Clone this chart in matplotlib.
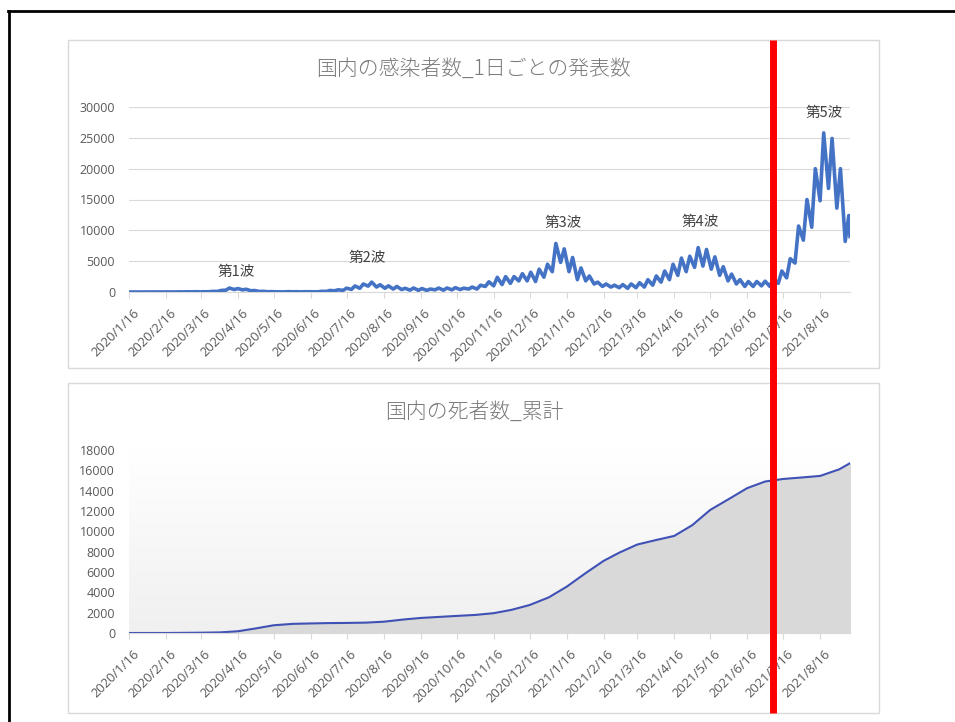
import numpy as np
import pandas as pd
import matplotlib
matplotlib.use('Agg')
import matplotlib.pyplot as plt
import matplotlib.dates as mdates
from matplotlib.colors import LinearSegmentedColormap
from matplotlib.patches import Rectangle
from matplotlib.lines import Line2D
from matplotlib.transforms import ScaledTranslation

plt.rcParams['font.family'] = ['Noto Sans CJK JP', 'DejaVu Sans']

# daily new cases: weekly high (placed on Thursdays) and weekly low (Mondays)
high_start = '2020-01-16'
weekly_high = [0, 1, 3, 4, 8, 15, 25, 35, 45, 40,
               100, 250, 640, 560, 440, 240, 110, 60, 30, 60,
               45, 45, 60, 110, 250, 355, 620, 980, 1300, 1600,
               1180, 1000, 900, 600, 650, 560, 480, 640, 650, 700,
               620, 800, 1100, 1650, 2380, 2500, 2500, 2970, 3200, 3700,
               4500, 7880, 7000, 5600, 3900, 2600, 1600, 1300, 1100, 1200,
               1300, 1500, 2000, 2600, 3400, 4500, 5500, 5800, 7200, 6900,
               5700, 4100, 2900, 2000, 1700, 1700, 1750, 2200, 3400, 5400,
               10700, 15000, 20000, 25800, 24900, 20000, 12400]
low_start = '2020-01-20'
weekly_low = [0, 1, 1, 2, 5, 10, 15, 25, 20, 40,
              85, 300, 400, 350, 200, 90, 40, 30, 20, 30,
              20, 45, 30, 85, 200, 260, 420, 600, 950, 800,
              600, 480, 400, 300, 270, 260, 350, 300, 350, 400,
              480, 480, 900, 1000, 1200, 1400, 1800, 1800, 1700, 2400,
              3300, 4800, 3300, 2000, 1800, 1300, 900, 800, 700, 600,
              700, 800, 1100, 1600, 2000, 2700, 3300, 4000, 4200, 3700,
              2700, 1800, 1300, 900, 900, 1000, 900, 1400, 2300, 4700,
              8400, 10500, 14800, 16800, 13600, 8200]
last_date = '2021-09-10'
last_value = 9000

# cumulative deaths
death_dates = ['2020-01-16', '2020-02-16', '2020-03-16', '2020-04-01', '2020-04-16',
               '2020-05-01', '2020-05-16', '2020-06-01', '2020-06-16', '2020-07-01',
               '2020-07-16', '2020-08-01', '2020-08-16', '2020-09-01', '2020-09-16',
               '2020-10-01', '2020-10-16', '2020-11-01', '2020-11-16', '2020-12-01',
               '2020-12-16', '2021-01-01', '2021-01-16', '2021-02-01', '2021-02-16',
               '2021-03-01', '2021-03-16', '2021-04-01', '2021-04-16', '2021-05-01',
               '2021-05-16', '2021-06-01', '2021-06-16', '2021-07-01', '2021-07-16',
               '2021-08-01', '2021-08-16', '2021-09-01', '2021-09-10']
death_total = [0, 1, 30, 60, 170, 450, 760, 900, 940, 975,
               990, 1020, 1110, 1320, 1480, 1580, 1680, 1780, 1950, 2280,
               2750, 3500, 4550, 5900, 7100, 7900, 8700, 9150, 9550, 10600,
               12100, 13200, 14250, 14900, 15150, 15300, 15450, 16100, 16700]

tick_labels = ['2020/1/16', '2020/2/16', '2020/3/16', '2020/4/16', '2020/5/16',
               '2020/6/16', '2020/7/16', '2020/8/16', '2020/9/16', '2020/10/16',
               '2020/11/16', '2020/12/16', '2021/1/16', '2021/2/16', '2021/3/16',
               '2021/4/16', '2021/5/16', '2021/6/16', '2021/7/16', '2021/8/16']

wave_labels = ['第1波', '第2波', '第3波', '第4波', '第5波']
wave_dates = ['2020-04-15', '2020-08-02', '2021-01-13', '2021-05-08', '2021-08-19']
wave_y = [3300, 5500, 11250, 11400, 28950]

marker_date = '2021-07-08'

# build daily-case series
hi = pd.Series(weekly_high, index=pd.date_range(high_start, periods=len(weekly_high), freq='7D'))
lo = pd.Series(weekly_low, index=pd.date_range(low_start, periods=len(weekly_low), freq='7D'))
cases = pd.concat([hi, lo, pd.Series([last_value], index=pd.to_datetime([last_date]))]).sort_index()
deaths = pd.Series(death_total, index=pd.to_datetime(death_dates))
ticks = pd.to_datetime(tick_labels, format='%Y/%m/%d')
x_range = (pd.Timestamp(high_start), pd.Timestamp(last_date))

W, H = 955, 722
fig = plt.figure(figsize=(W / 100, H / 100), dpi=100)


def box(x0, y0, x1, y1):
    return [x0 / W, 1 - y1 / H, (x1 - x0) / W, (y1 - y0) / H]


# chart frames
for y0, y1 in [(40, 368), (383, 713)]:
    fig.patches.append(Rectangle((68 / W, 1 - y1 / H), (879 - 68) / W, (y1 - y0) / H,
                                 transform=fig.transFigure, facecolor='white',
                                 edgecolor='#d9d9d9', lw=1, zorder=-5))

# outer black frame
fig.lines.append(Line2D([8 / W, 1], [1 - 11 / H, 1 - 11 / H], transform=fig.transFigure,
                        color='black', lw=2))
fig.lines.append(Line2D([9 / W, 9 / W], [0, 1 - 11 / H], transform=fig.transFigure,
                        color='black', lw=2))

ax1 = fig.add_axes(box(129, 107, 850, 292))
ax2 = fig.add_axes(box(129, 450, 850, 633))

label_shift = ScaledTranslation(8 / 100, -2 / 100, fig.dpi_scale_trans)
tick_font = 'Open Sans'


def style_xaxis(ax):
    ax.set_xlim(*x_range)
    ax.set_xticks(ticks)
    ax.set_xticklabels(tick_labels)
    ax.tick_params(axis='x', length=4, width=0.8, color='#d9d9d9', labelsize=9.4,
                   labelcolor='#595959', pad=8)
    ax.tick_params(axis='y', length=0, labelsize=9, labelcolor='#595959', pad=10)
    for lbl in ax.get_xticklabels():
        lbl.set_family(tick_font)
        lbl.set_rotation(45)
        lbl.set_ha('right')
        lbl.set_va('center')
        lbl.set_rotation_mode('anchor')
        lbl.set_transform(lbl.get_transform() + label_shift)
    for lbl in ax.get_yticklabels():
        lbl.set_family(tick_font)
    for s in ['top', 'right', 'left']:
        ax.spines[s].set_visible(False)
    ax.spines['bottom'].set_color('#d9d9d9')


# top chart: daily cases
ax1.set_facecolor('none')
ax1.plot(cases.index, cases.values, color='#4472c4', lw=2.6, solid_joinstyle='round', zorder=3)
ax1.set_ylim(0, 30000)
ax1.set_yticks(range(0, 30001, 5000))
ax1.grid(axis='y', color='#d9d9d9', lw=0.8)
ax1.set_axisbelow(True)
style_xaxis(ax1)
for lbl, d, y in zip(wave_labels, wave_dates, wave_y):
    ax1.text(pd.Timestamp(d), y, lbl, ha='center', va='center', fontsize=10.5, color='#404040')

# bottom chart: cumulative deaths
grad = LinearSegmentedColormap.from_list('bg', ['#f0f0f0', '#ffffff'])
ax2.imshow(np.linspace(0, 1, 100).reshape(-1, 1), cmap=grad, origin='lower', aspect='auto',
           extent=[0, 1, 0, 1], transform=ax2.transAxes, zorder=0)
ax2.fill_between(deaths.index, deaths.values, color='#d9d9d9', zorder=1)
ax2.plot(deaths.index, deaths.values, color='#3f51b5', lw=1.5, zorder=2)
ax2.set_ylim(0, 18000)
ax2.set_yticks(range(0, 18001, 2000))
style_xaxis(ax2)

fig.text(474 / W, 1 - 70 / H, '国内の感染者数_1日ごとの発表数', ha='center', va='center',
         fontsize=15, color='#7a7a7a', fontweight='light')
fig.text(474 / W, 1 - 413 / H, '国内の死者数_累計', ha='center', va='center',
         fontsize=15, color='#7a7a7a', fontweight='light')

# red marker line across both charts
xd = ax1.transData.transform((mdates.date2num(pd.Timestamp(marker_date)), 0))[0]
xf = fig.transFigure.inverted().transform((xd, 0))[0]
fig.lines.append(Line2D([xf, xf], [1 - 713 / H, 1 - 40 / H], transform=fig.transFigure,
                        color='#ff0000', lw=5, solid_capstyle='butt', zorder=10))

fig.savefig('out.png', dpi=100)
